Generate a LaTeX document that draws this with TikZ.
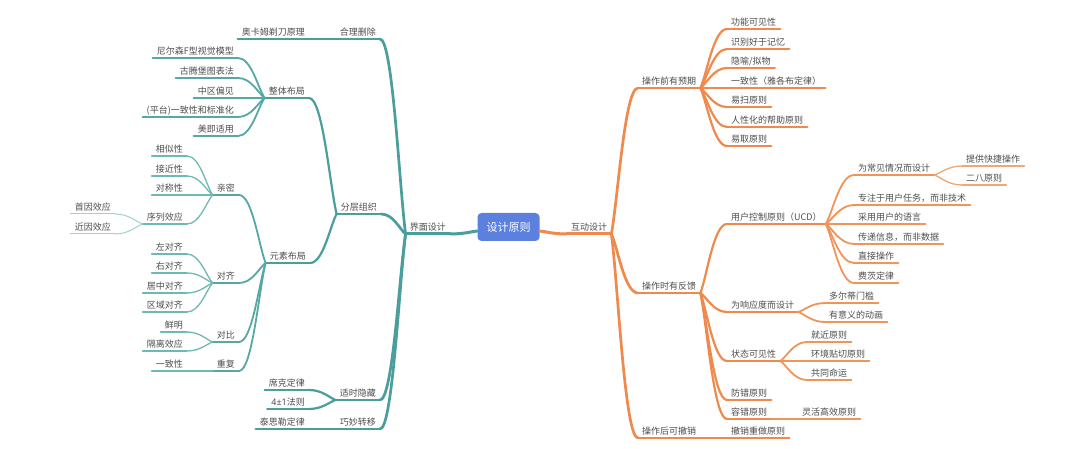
\documentclass[tikz,border=0pt]{standalone}
\usepackage{fontspec}
\newfontfamily\cjk{Noto Sans CJK SC}
\newfontfamily\lat{Noto Sans}
\usetikzlibrary{calc}
\definecolor{teal1}{HTML}{4A9E9B}
\definecolor{teal2}{HTML}{55A8A5}
\definecolor{teal3}{HTML}{6FB9B5}
\definecolor{teal4}{HTML}{9DD2CE}
\definecolor{orange1}{HTML}{EF8A4C}
\definecolor{orange2}{HTML}{F19459}
\definecolor{orange3}{HTML}{F3A574}
\definecolor{orange4}{HTML}{F6C09C}
\definecolor{rootblue}{HTML}{5B80DE}
\definecolor{txt}{HTML}{4E4E4E}
\newcommand{\mmlink}[3]{\draw[#1] let \p1=(#2), \p2=(#3) in (\p1) .. controls ({\x1+0.25*(\x2-\x1)},{\y1+0.25*(\y2-\y1)}) and ({0.5*(\x1+\x2)},{\y2}) .. (\p2);}
\newcommand{\mmul}[2]{\draw[#1] (#2.south west) -- (#2.south east);}
\tikzset{
  lbl/.style={font=\cjk\fontsize{9}{10}\selectfont, text=txt, inner xsep=4pt, inner ysep=2pt, text height=7pt, text depth=1.6pt},
  L/.style={lbl, anchor=south east},
  R/.style={lbl, anchor=south west},
  rootbox/.style={fill=rootblue, rounded corners=4pt, minimum width=62pt, minimum height=28pt, inner sep=0pt, text=white, font=\cjk\fontsize{11}{12}\selectfont},
  tk1/.style={draw=teal1, line width=3pt, line cap=round},
  tk2/.style={draw=teal1, line width=2.7pt, line cap=round},
  tk3/.style={draw=teal1, line width=2.2pt, line cap=round},
  tk4/.style={draw=teal2, line width=1.8pt, line cap=round},
  tk5/.style={draw=teal3, line width=1.3pt, line cap=round},
  tk6/.style={draw=teal4, line width=1.0pt, line cap=round},
  oc1/.style={draw=orange1, line width=3pt, line cap=round},
  oc2/.style={draw=orange1, line width=2.7pt, line cap=round},
  oc3/.style={draw=orange1, line width=2.2pt, line cap=round},
  oc4/.style={draw=orange2, line width=1.8pt, line cap=round},
  oc5/.style={draw=orange3, line width=1.3pt, line cap=round},
  oc6/.style={draw=orange4, line width=1.0pt, line cap=round},
}
\begin{document}
\begin{tikzpicture}[x=1pt,y=-1pt]
\fill[white] (0,0) rectangle (1080,449);
\useasboundingbox (0,0) rectangle (1080,449);

% root
\node[rootbox] (root) at (508.5,227) {设计原则};

% ---------- left side ----------
\node[L] (jm) at (450,234) {界面设计};
\node[L] (hl) at (380,39) {合理删除};
\node[L] (fc) at (381,214) {分层组织};
\node[L] (ss) at (380,400) {适时隐藏};
\node[L] (qm) at (380,429) {巧妙转移};
\node[L] (ak) at (309,39) {奥卡姆剃刀原理};
\node[L] (zt) at (309,98) {整体布局};
\node[L] (ys) at (310,263) {元素布局};
\node[L] (xk) at (309,390) {席克定律};
\node[L] (sy) at (309,409) {{\lat 4±1}法则};
\node[L] (ts) at (309,429) {泰思勒定律};
\node[L] (nes) at (238,58) {尼尔森F型视觉模型};
\node[L] (gtb) at (238,78) {古腾堡图表法};
\node[L] (zq) at (238,98) {中区偏见};
\node[L] (pt) at (238,117) {(平台)一致性和标准化};
\node[L] (mj) at (238,136) {美即适用};
\node[L] (qmi) at (239,195) {亲密};
\node[L] (dq) at (239,283) {对齐};
\node[L] (db) at (239,342) {对比};
\node[L] (cf) at (239,371) {重复};
\node[L] (xs) at (187,156) {相似性};
\node[L] (jj) at (187,176) {接近性};
\node[L] (dc) at (187,195) {对称性};
\node[L] (xl) at (187,224) {序列效应};
\node[L] (sh) at (115,214) {首因效应};
\node[L] (jy) at (115,234) {近因效应};
\node[L] (zd) at (187,254) {左对齐};
\node[L] (yd) at (187,273) {右对齐};
\node[L] (jz) at (187,293) {居中对齐};
\node[L] (qy) at (187,312) {区域对齐};
\node[L] (xm) at (187,332) {鲜明};
\node[L] (gl) at (187,351) {隔离效应};
\node[L] (yz) at (187,371) {一致性};

% ---------- right side ----------
\node[R] (hd) at (567,234) {互动设计};
\node[R] (qq) at (638,88) {操作前有预期};
\node[R] (sf) at (638,293) {操作时有反馈};
\node[R] (hc) at (638,438) {操作后可撤销};
\node[R] (gn) at (727,29) {功能可见性};
\node[R] (sb) at (727,49) {识别好于记忆};
\node[R] (yy) at (727,68) {隐喻/拟物};
\node[R] (yzx) at (727,88) {一致性（雅各布定律）};
\node[R] (ysa) at (727,107) {易扫原则};
\node[R] (rx) at (727,127) {人性化的帮助原则};
\node[R] (yq) at (727,146) {易取原则};
\node[R] (ucd) at (727,224) {用户控制原则（UCD）};
\node[R] (xy) at (727,312) {为响应度而设计};
\node[R] (zt2) at (727,361) {状态可见性};
\node[R] (fcy) at (727,400) {防错原则};
\node[R] (rc) at (727,419) {容错原则};
\node[R] (cx) at (727,438) {撤销重做原则};
\node[R] (cj) at (854,175) {为常见情况而设计};
\node[R] (zz) at (854,205) {专注于用户任务，而非技术};
\node[R] (cy) at (854,224) {采用用户的语言};
\node[R] (cd) at (854,244) {传递信息，而非数据};
\node[R] (zj) at (854,263) {直接操作};
\node[R] (fz) at (854,283) {费茨定律};
\node[R] (tg) at (962,166) {提供快捷操作};
\node[R] (eb) at (962,185) {二八原则};
\node[R] (de) at (825,303) {多尔蒂门槛};
\node[R] (yd2) at (825,322) {有意义的动画};
\node[R] (jn) at (807,342) {就近原则};
\node[R] (hj) at (807,361) {环境贴切原则};
\node[R] (gt) at (807,380) {共同命运};
\node[R] (lh) at (798,419) {灵活高效原则};

% ---------- left connectors ----------
\mmlink{tk1}{[yshift=-4pt]root.west}{jm.south east} \mmul{tk1}{jm}
\foreach \c in {hl,fc,ss,qm}{\mmlink{tk2}{jm.south west}{\c.south east} \mmul{tk2}{\c}}
\mmlink{tk3}{hl.south west}{ak.south east} \mmul{tk3}{ak}
\foreach \c in {zt,ys}{\mmlink{tk3}{fc.south west}{\c.south east} \mmul{tk3}{\c}}
\foreach \c in {xk,sy}{\mmlink{tk3}{ss.south west}{\c.south east} \mmul{tk3}{\c}}
\mmlink{tk3}{qm.south west}{ts.south east} \mmul{tk3}{ts}
\foreach \c in {nes,gtb,zq,pt,mj}{\mmlink{tk4}{zt.south west}{\c.south east} \mmul{tk4}{\c}}
\foreach \c in {qmi,dq,db,cf}{\mmlink{tk4}{ys.south west}{\c.south east} \mmul{tk4}{\c}}
\foreach \c in {xs,jj,dc,xl}{\mmlink{tk5}{qmi.south west}{\c.south east} \mmul{tk5}{\c}}
\foreach \c in {sh,jy}{\mmlink{tk6}{xl.south west}{\c.south east} \mmul{tk6}{\c}}
\foreach \c in {zd,yd,jz,qy}{\mmlink{tk5}{dq.south west}{\c.south east} \mmul{tk5}{\c}}
\foreach \c in {xm,gl}{\mmlink{tk5}{db.south west}{\c.south east} \mmul{tk5}{\c}}
\mmlink{tk5}{cf.south west}{yz.south east} \mmul{tk5}{yz}

% ---------- right connectors ----------
\mmlink{oc1}{[yshift=-4pt]root.east}{hd.south west} \mmul{oc1}{hd}
\foreach \c in {qq,sf,hc}{\mmlink{oc2}{hd.south east}{\c.south west} \mmul{oc2}{\c}}
\foreach \c in {gn,sb,yy,yzx,ysa,rx,yq}{\mmlink{oc3}{qq.south east}{\c.south west} \mmul{oc3}{\c}}
\foreach \c in {ucd,xy,zt2,fcy,rc}{\mmlink{oc3}{sf.south east}{\c.south west} \mmul{oc3}{\c}}
\mmlink{oc3}{hc.south east}{cx.south west} \mmul{oc3}{cx}
\foreach \c in {cj,zz,cy,cd,zj,fz}{\mmlink{oc4}{ucd.south east}{\c.south west} \mmul{oc4}{\c}}
\foreach \c in {tg,eb}{\mmlink{oc5}{cj.south east}{\c.south west} \mmul{oc5}{\c}}
\foreach \c in {de,yd2}{\mmlink{oc4}{xy.south east}{\c.south west} \mmul{oc4}{\c}}
\foreach \c in {jn,hj,gt}{\mmlink{oc4}{zt2.south east}{\c.south west} \mmul{oc4}{\c}}
\mmlink{oc4}{rc.south east}{lh.south west} \mmul{oc4}{lh}
\end{tikzpicture}
\end{document}
